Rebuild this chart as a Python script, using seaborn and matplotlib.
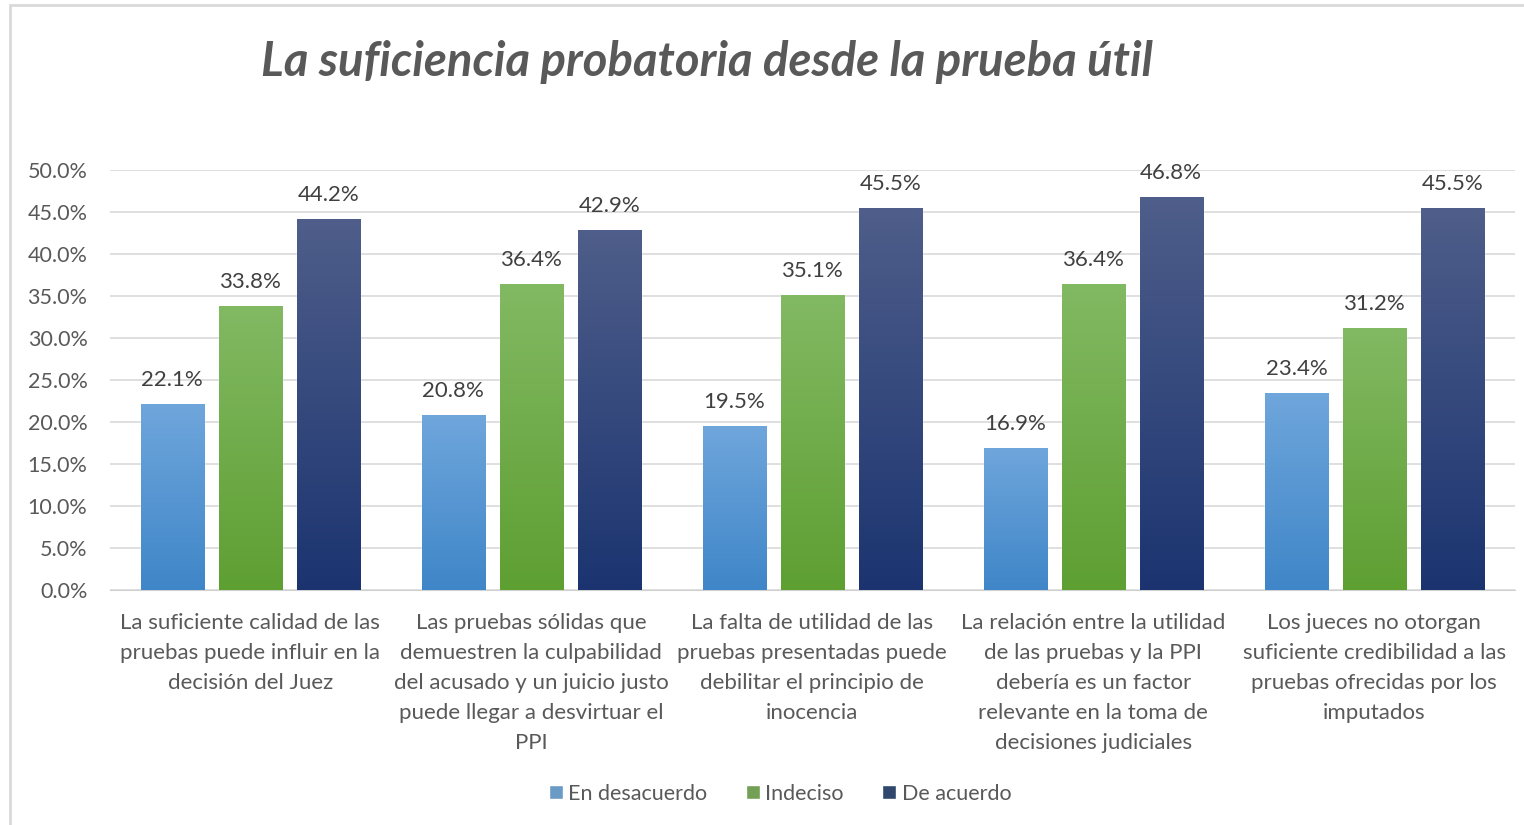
import matplotlib
matplotlib.use("Agg")
import matplotlib.pyplot as plt
import matplotlib.colors as mcolors
from matplotlib.patches import Rectangle
import numpy as np
import pandas as pd
import seaborn as sns

# datos
categorias = [
    "La suficiente calidad de las\npruebas puede influir en la\ndecisión del Juez",
    "Las pruebas sólidas que\ndemuestren la culpabilidad\ndel acusado y un juicio justo\npuede llegar a desvirtuar el\nPPI",
    "La falta de utilidad de las\npruebas presentadas puede\ndebilitar el principio de\ninocencia",
    "La relación entre la utilidad\nde las pruebas y la PPI\ndebería es un factor\nrelevante en la toma de\ndecisiones judiciales",
    "Los jueces no otorgan\nsuficiente credibilidad a las\npruebas ofrecidas por los\nimputados",
]
series = ["En desacuerdo", "Indeciso", "De acuerdo"]
en_desacuerdo = [22.1, 20.8, 19.5, 16.9, 23.4]
indeciso = [33.8, 36.4, 35.1, 36.4, 31.2]
de_acuerdo = [44.2, 42.9, 45.5, 46.8, 45.5]

colores = ["#5b9bd5", "#70ad47", "#264478"]
grad_top = ["#6fa6dc", "#82b963", "#4f5e8a"]
grad_bot = ["#3f86c8", "#5e9f32", "#1b3470"]

df = pd.DataFrame({
    "cat": categorias * 3,
    "serie": sum([[s] * 5 for s in series], []),
    "valor": en_desacuerdo + indeciso + de_acuerdo,
})

sns.set_style("white")
plt.rcParams["font.family"] = ["Lato", "DejaVu Sans"]
gris = "#595959"

fig = plt.figure(figsize=(15.24, 8.25), dpi=100)
ax = fig.add_axes([0.072, 0.285, 0.922, 0.509])

sns.barplot(data=df, x="cat", y="valor", hue="serie", hue_order=series,
            palette=colores, width=0.832, gap=0.19, ax=ax, legend=True,
            errorbar=None, zorder=3)

ax.set_ylim(0, 50)
ax.set_xlim(-0.5, 4.5)
ax.set_yticks(np.arange(0, 51, 5))
ax.set_yticklabels([f"{v:.1f}%" for v in np.arange(0, 51, 5)], color=gris, fontsize=15.5)
ax.set_xticks(range(5))
ax.set_xticklabels(categorias, color=gris, fontsize=16, linespacing=1.62, va="top")
ax.tick_params(axis="x", length=0, pad=17)
ax.tick_params(axis="y", length=0, pad=16)
ax.set_xlabel("")
ax.set_ylabel("")
ax.grid(axis="y", color="#d9d9d9", linewidth=1.2, zorder=0)
for s in ["top", "right", "left"]:
    ax.spines[s].set_visible(False)
ax.spines["bottom"].set_color("#d0d0d0")

# degradado en cada barra
for i, cont in enumerate(ax.containers):
    cmap = mcolors.LinearSegmentedColormap.from_list("g", [grad_bot[i], grad_top[i]])
    for bar in cont:
        x0, y0 = bar.get_x(), bar.get_y()
        w, h = bar.get_width(), bar.get_height()
        bar.set_facecolor("none")
        img = ax.imshow(np.linspace(0, 1, 256).reshape(-1, 1), cmap=cmap,
                        extent=[x0, x0 + w, y0, y0 + h], origin="lower",
                        aspect="auto", zorder=3)
        img.set_clip_path(bar)
    ax.bar_label(cont, fmt="%.1f%%", padding=10, fontsize=16, color="#404040")

ax.set_xlim(-0.5, 4.5)
ax.set_ylim(0, 50)

leg = ax.legend(loc="center", bbox_to_anchor=(0.477, -0.485), ncol=3, frameon=False,
                fontsize=15.5, handlelength=0.65, handleheight=0.65, handletextpad=0.25,
                columnspacing=1.8)
for t in leg.get_texts():
    t.set_color(gris)

fig.text(0.464, 0.925, "La suficiencia probatoria desde la prueba útil", ha="center",
         va="center", fontsize=34, fontweight="bold", fontstyle="italic", color=gris)

# marco del grafico
fig.patches.append(Rectangle((10 / 1524, -0.1), 1.2, 1 - 5 / 825 + 0.1,
                             transform=fig.transFigure, fill=False,
                             edgecolor="#d9d9d9", linewidth=2))

fig.savefig("out.png", dpi=100)
